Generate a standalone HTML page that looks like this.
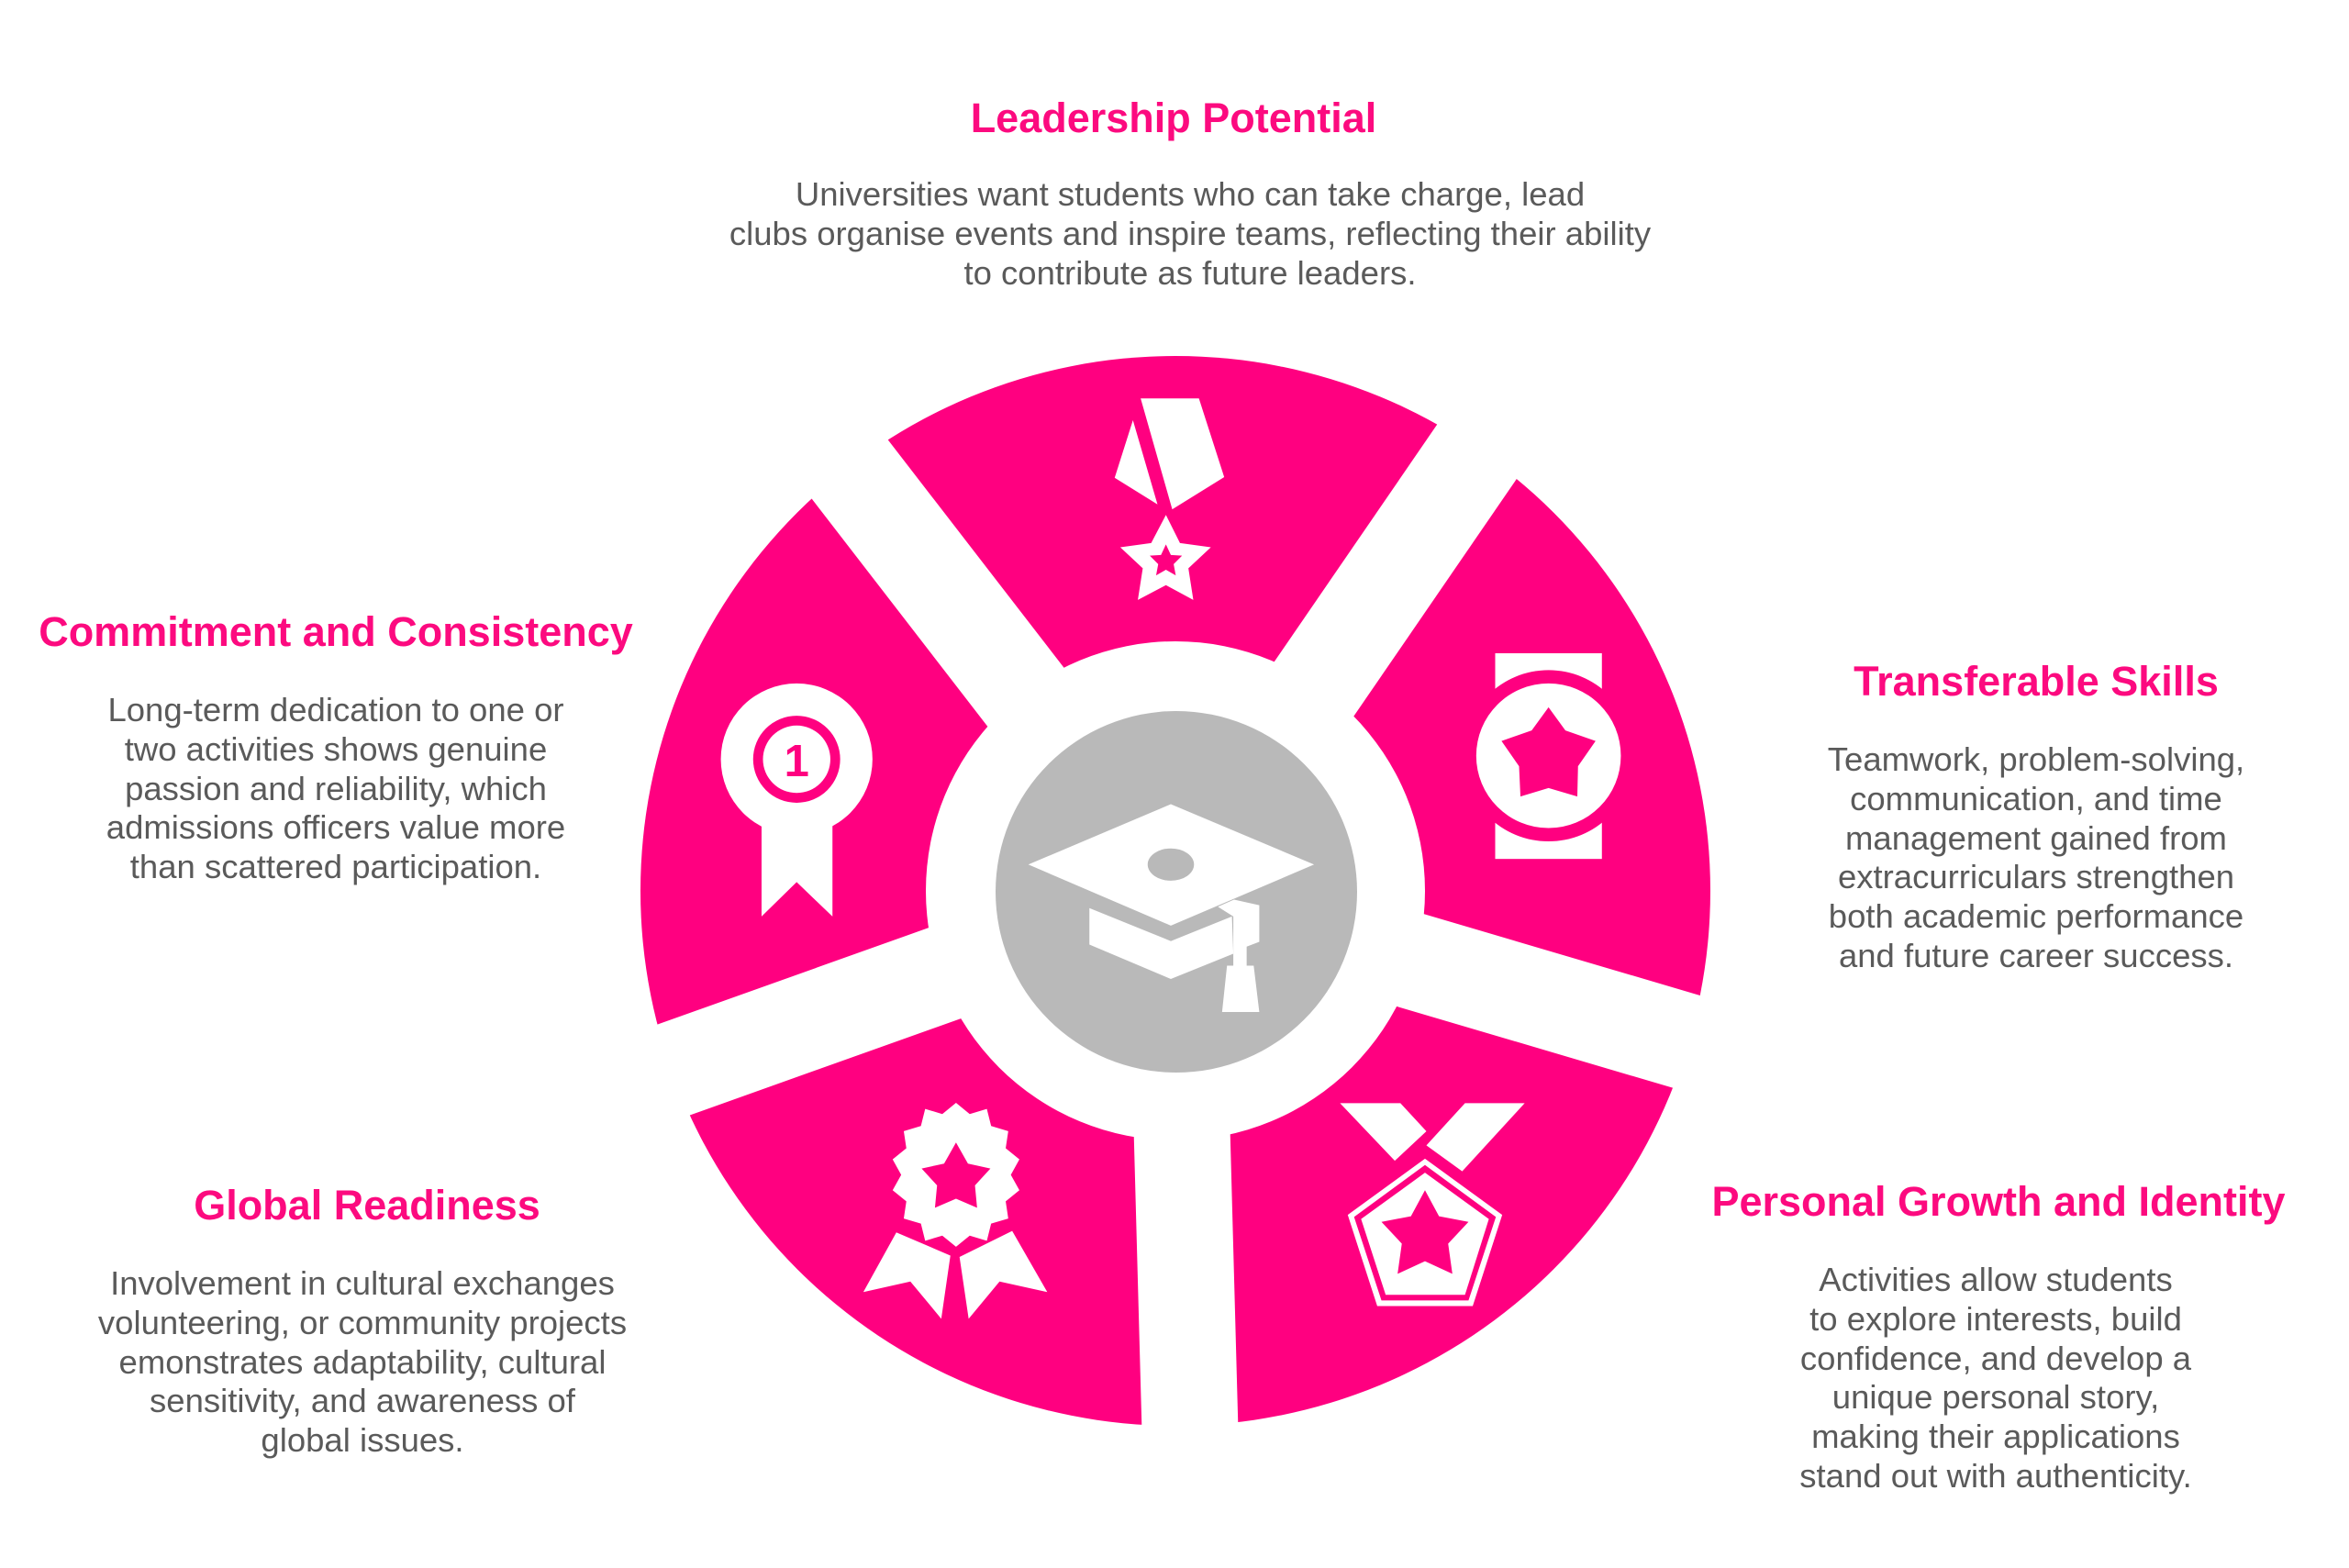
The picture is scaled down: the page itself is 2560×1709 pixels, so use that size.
<!DOCTYPE html>
<html><head><meta charset="utf-8"><style>
html,body{margin:0;padding:0;background:#fff;}
#w{position:relative;width:2560px;height:1709px;overflow:hidden;}
.t{position:absolute;font-family:"Liberation Sans",sans-serif;font-weight:bold;color:#fc0a7f;font-size:45px;line-height:48px;text-align:center;white-space:nowrap;transform:translateX(-50%);}
.b{position:absolute;font-family:"Liberation Sans",sans-serif;color:#5a5a5a;font-size:36.5px;line-height:42.8px;text-align:center;white-space:nowrap;transform:translateX(-50%);}
svg{position:absolute;left:0;top:0;}
</style></head><body><div id="w">
<svg width="2560" height="1709" viewBox="0 0 2560 1709">
<circle cx="1281" cy="971" r="583" fill="#ff0080"/>
<circle cx="1281" cy="971" r="272" fill="#fff"/>
<g stroke="#fff" stroke-width="105">
<line x1="1281" y1="971" x2="1677" y2="394"/>
<line x1="1281" y1="971" x2="854" y2="418"/>
<line x1="1281" y1="971" x2="622" y2="1206"/>
<line x1="1281" y1="971" x2="1300" y2="1671"/>
<line x1="1281" y1="971" x2="1952" y2="1169"/>
</g>
<circle cx="1282" cy="972" r="197" fill="#b9b9b9"/>
<g transform="translate(680,370) scale(0.7651)">
<polygon points="736,84 819,84 855,196 781,242" fill="#fff"/>
<polygon points="725,115 760,235 699,197" fill="#fff"/>
<polygon points="772,250 792,290 836,296 804,326 811,371 772,350 732,371 739,326 707,296 751,290" fill="#fff"/>
<polygon points="772,292 779,307 795,308 783,320 786,336 772,328 758,336 761,320 749,308 765,307" fill="#ff0080"/>
<polygon points="576,748 779,662 983,748 779,835" fill="#fff"/>
<ellipse cx="779" cy="748" rx="33" ry="23" fill="#b9b9b9"/>
<polygon points="663,810 779,857 866,822 868,875 779,911 663,862" fill="#fff"/>
<polygon points="869,798 905,806 905,858 887,865 887,892 897,892 905,958 852,958 859,892 868,892 868,822 846,808" fill="#fff"/>
<circle cx="246" cy="598" r="108" fill="#fff"/>
<polygon points="196,660 297,660 297,822 246,773 196,822" fill="#fff"/>
<circle cx="246" cy="598" r="62" fill="#ff0080"/>
<circle cx="246" cy="598" r="48" fill="#fff"/>
<text x="246" y="622" font-family="Liberation Sans,sans-serif" font-weight="bold" font-size="64" fill="#ff0080" text-anchor="middle">1</text>
<rect x="1241" y="447" width="152" height="51" fill="#fff"/>
<rect x="1241" y="687" width="152" height="53" fill="#fff"/>
<circle cx="1317" cy="593" r="122" fill="#ff0080"/>
<circle cx="1317" cy="593" r="103" fill="#fff"/>
<polygon points="1317,524 1341,557 1384,572 1359,608 1358,651 1317,639 1277,651 1275,608 1250,572 1293,557" fill="#ff0080"/>
<polygon points="388,1272 465,1305 452,1395 408,1342 341,1357" fill="#fff"/>
<polygon points="553,1270 478,1307 491,1395 535,1342 603,1357" fill="#fff"/>
<polygon fill="#fff" points="473,1095 489,1108 509,1102 514,1122 534,1128 531,1148 547,1161 537,1179 547,1197 531,1210 534,1230 514,1236 509,1256 489,1250 473,1263 457,1250 437,1256 432,1236 412,1230 415,1210 399,1197 409,1179 399,1161 415,1148 412,1128 432,1122 437,1102 457,1108" transform="translate(473,1190) scale(1.22) translate(-473,-1179)"/>
<polygon points="473,1144 490,1174 522,1181 500,1205 503,1237 473,1224 443,1237 446,1205 424,1181 456,1174" fill="#ff0080"/>
<polygon points="1020,1088 1106,1088 1143,1128 1098,1170" fill="#fff"/>
<polygon points="1198,1088 1283,1088 1194,1185 1143,1148" fill="#fff"/>
<polygon points="1141,1167 1251,1247 1209,1377 1073,1377 1031,1247" fill="#fff"/>
<polygon points="1141,1176 1242,1250 1203,1369 1079,1369 1040,1250" fill="#ff0080"/>
<polygon points="1141,1187 1232,1253 1198,1361 1085,1361 1050,1253" fill="#fff"/>
<polygon points="1141,1212 1161,1249 1203,1257 1174,1288 1180,1331 1141,1313 1102,1331 1108,1288 1079,1257 1121,1249" fill="#ff0080"/>
</g>
</svg>

<div class="t" style="left:1279px;top:105px;">Leadership Potential</div>
<div class="b" style="left:1297px;top:191px;">Universities want students who can take charge, lead<br>clubs organise events and inspire teams, reflecting their ability<br>to contribute as future leaders.</div>

<div class="t" style="left:366px;top:665px;">Commitment and Consistency</div>
<div class="b" style="left:366px;top:753px;">Long-term dedication to one or<br>two activities shows genuine<br>passion and reliability, which<br>admissions officers value more<br>than scattered participation.</div>

<div class="t" style="left:2219px;top:719px;">Transferable Skills</div>
<div class="b" style="left:2219px;top:807px;">Teamwork, problem-solving,<br>communication, and time<br>management gained from<br>extracurriculars strengthen<br>both academic performance<br>and future career success.</div>

<div class="t" style="left:400px;top:1290px;">Global Readiness</div>
<div class="b" style="left:395px;top:1378px;">Involvement in cultural exchanges<br>volunteering, or community projects<br>emonstrates adaptability, cultural<br>sensitivity, and awareness of<br>global issues.</div>

<div class="t" style="left:2178px;top:1286px;">Personal Growth and Identity</div>
<div class="b" style="left:2175px;top:1374px;">Activities allow students<br>to explore interests, build<br>confidence, and develop a<br>unique personal story,<br>making their applications<br>stand out with authenticity.</div>
</div></body></html>
